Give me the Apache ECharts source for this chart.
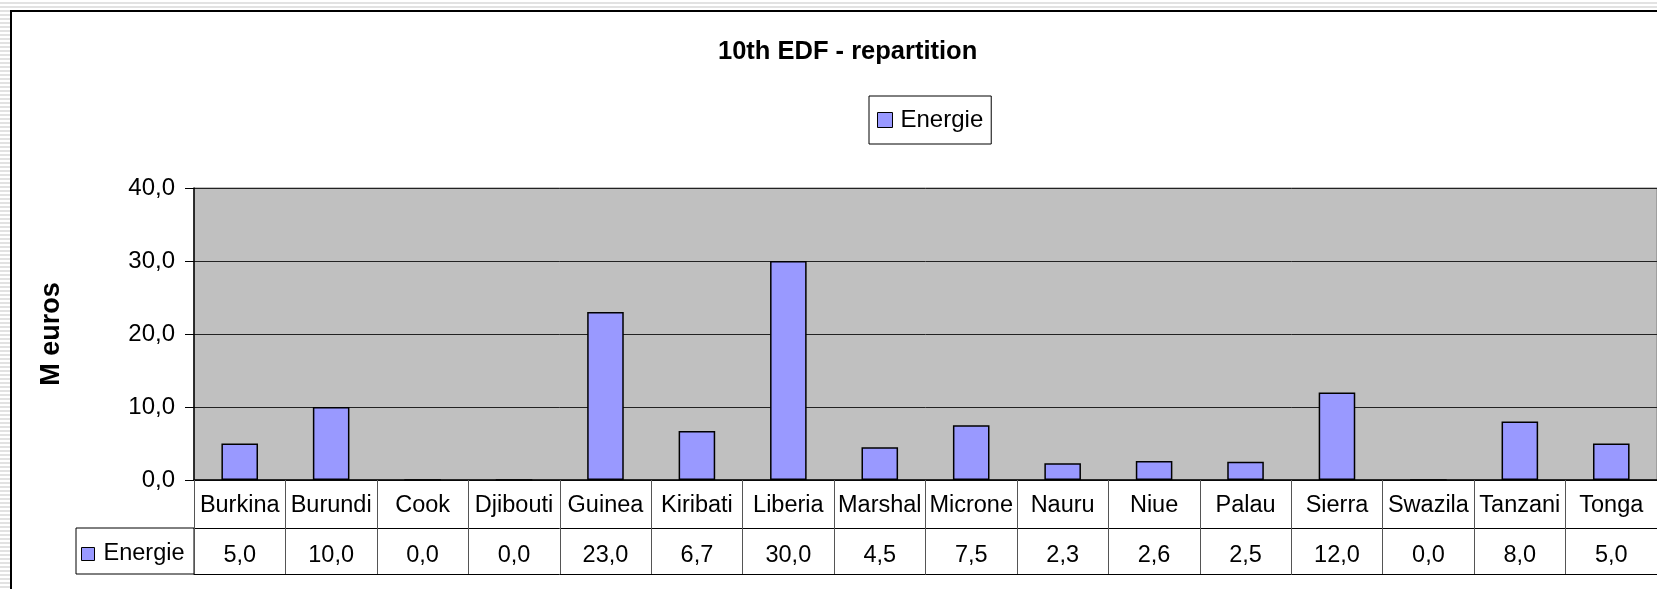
<!DOCTYPE html>
<html>
<head>
<meta charset="utf-8">
<script src="https://cdn.jsdelivr.net/npm/echarts@6/dist/echarts.min.js"></script>
<style>
  html, body { margin: 0; padding: 0; width: 1657px; height: 589px; overflow: hidden;
    background: repeating-linear-gradient(to bottom, #ffffff 0px, #ffffff 2px, #e2e2e2 2px, #e2e2e2 4px); }
  #frame { position: absolute; left: 10px; top: 10px; width: 1700px; height: 700px;
    background: #ffffff; border-left: 2px solid #000; border-top: 2px solid #000; }
  #chart { position: absolute; left: 0; top: 0; width: 1657px; height: 589px; }
</style>
</head>
<body>
<div id="frame"></div>
<div id="chart"></div>
<script>
const titleText = '10th EDF - repartition';
const seriesName = 'Energie';
const yAxisName = 'M euros';
const categories = ['Burkina', 'Burundi', 'Cook', 'Djibouti', 'Guinea', 'Kiribati', 'Liberia', 'Marshal',
  'Microne', 'Nauru', 'Niue', 'Palau', 'Sierra', 'Swazila', 'Tanzani', 'Tonga'];
const energie = [5.0, 10.0, 0.0, 0.0, 23.0, 6.7, 30.0, 4.5, 7.5, 2.3, 2.6, 2.5, 12.0, 0.0, 8.0, 5.0];
const yTicks = [0, 10, 20, 30, 40];

const FONT = '"Liberation Sans", Arial, sans-serif';
const fmt = v => v.toFixed(1).replace('.', ',');

const chart = echarts.init(document.getElementById('chart'), null, { renderer: 'canvas' });
const GRID = { left: 194, top: 188, width: 1468, height: 292 };

chart.setOption({
  backgroundColor: 'transparent',
  animation: false,
  textStyle: { fontFamily: FONT, color: '#000' },
  title: {
    text: titleText, left: 718, top: 39, padding: 0,
    textStyle: { fontFamily: FONT, fontSize: 25.5, fontWeight: 'bold', color: '#000', lineHeight: 25 }
  },
  legend: [
    {
      data: [seriesName], left: 869, top: 96, orient: 'horizontal',
      borderColor: '#000', borderWidth: 1, padding: [12, 8, 12, 8],
      icon: 'rect', itemWidth: 15, itemHeight: 15,
      itemStyle: { color: '#9999FF', borderColor: '#000', borderWidth: 1 },
      textStyle: { fontFamily: FONT, fontSize: 24, color: '#000', lineHeight: 24, padding: [0, 0, 0, 3] },
      selectedMode: false
    },
    {
      data: [seriesName], left: 81, top: 542, orient: 'horizontal', padding: 0,
      icon: 'rect', itemWidth: 13, itemHeight: 13,
      itemStyle: { color: '#9999FF', borderColor: '#000', borderWidth: 1 },
      textStyle: { fontFamily: FONT, fontSize: 23.5, color: '#000', lineHeight: 24, padding: [0, 0, 0, 4] },
      selectedMode: false
    }
  ],
  grid: Object.assign({ show: true, backgroundColor: '#C0C0C0', borderColor: '#808080', borderWidth: 1 }, GRID),
  xAxis: [
    {
      type: 'category', data: categories, position: 'bottom', boundaryGap: true,
      axisLine: { show: true, lineStyle: { color: '#000', width: 1.5 } },
      axisTick: { show: true, interval: 0, length: 48, lineStyle: { color: '#555', width: 1 } },
      axisLabel: { interval: 0, margin: 2, fontFamily: FONT, fontSize: 23.5, color: '#000', lineHeight: 48 },
      splitLine: { show: false }
    },
    {
      type: 'category', data: categories, position: 'bottom', offset: 48, boundaryGap: true,
      axisLine: { show: true, lineStyle: { color: '#000', width: 1 } },
      axisTick: { show: true, interval: 0, length: 46, lineStyle: { color: '#555', width: 1 } },
      axisLabel: { interval: 0, margin: 3, fontFamily: FONT, fontSize: 23.5, color: '#000', lineHeight: 50,
        formatter: (v, i) => fmt(energie[i]) },
      splitLine: { show: false }
    },
    {
      type: 'category', data: categories, position: 'bottom', offset: 94, boundaryGap: true,
      axisLine: { show: true, lineStyle: { color: '#000', width: 1 } },
      axisTick: { show: false }, axisLabel: { show: false }, splitLine: { show: false }
    }
  ],
  yAxis: {
    type: 'value', min: yTicks[0], max: yTicks[yTicks.length - 1], interval: 10,
    name: yAxisName, nameLocation: 'middle', nameGap: 129, nameRotate: 90,
    nameTextStyle: { fontFamily: FONT, fontSize: 27, fontWeight: 'bold', color: '#000' },
    axisLine: { show: true, lineStyle: { color: '#000', width: 1.5 } },
    axisTick: { show: true, inside: false, length: 9, lineStyle: { color: '#000', width: 1 } },
    axisLabel: { margin: 19, fontFamily: FONT, fontSize: 24, color: '#000', formatter: v => fmt(v) },
    splitLine: { show: true, lineStyle: { color: '#222', width: 1 } }
  },
  graphic: [
    { type: 'rect', shape: { x: 76, y: 528, width: 118, height: 46 }, silent: true,
      style: { fill: 'none', stroke: '#000', lineWidth: 1 } }
  ],
  series: [{
    name: seriesName, type: 'bar', xAxisIndex: 0, data: energie, barWidth: '40%',
    itemStyle: { color: '#9999FF', borderColor: '#000', borderWidth: 1.5 }
  }]
});
</script>
</body>
</html>
